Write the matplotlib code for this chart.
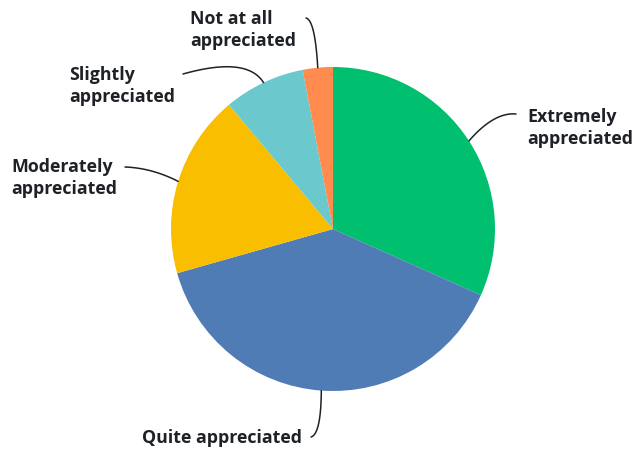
import numpy as np
import matplotlib.pyplot as plt

# -----------------------------
# Survey responses
# -----------------------------
labels = ["Extremely\nappreciated", "Quite appreciated", "Moderately\nappreciated",
          "Slightly\nappreciated", "Not at all\nappreciated"]
values = [31.7, 38.9, 18.3, 8.1, 3.0]
colors = ["#00BF6F", "#507CB6", "#F9BE00", "#6BC8CD", "#FF8B4F"]

# label placement: (left x, first baseline y, leader start, leader control)
label_pos = [(527, 122, (516, 114), (494, 112)),
             (142, 443, (311, 437), (321, 434)),
             (11, 172, (125, 167), (152, 168)),
             (69, 80, (183, 74), (247, 56)),
             (190, 24, (306, 18), (315, 20))]

cx, cy, R = 333, 229, 162
text_color = "#1e2226"

fig = plt.figure(figsize=(6.38, 4.51), dpi=100)
ax = fig.add_axes([0, 0, 1, 1])

# y axis is flipped below, so counterclock in data = clockwise on screen
wedges, _ = ax.pie(values, colors=colors, startangle=-90, counterclock=True,
                   center=(cx, cy), radius=R, wedgeprops=dict(linewidth=0))

for w, lab, (tx, ty, p0, pc) in zip(wedges, labels, label_pos):
    mid = np.radians((w.theta1 + w.theta2) / 2)
    p2 = (cx + R * np.cos(mid), cy + R * np.sin(mid))
    # quadratic bezier leader line
    t = np.linspace(0, 1, 40)[:, None]
    a, b, c = np.array(p0), np.array(pc), np.array(p2)
    pts = (1 - t) ** 2 * a + 2 * (1 - t) * t * b + t ** 2 * c
    ax.plot(pts[:, 0], pts[:, 1], color=text_color, lw=1.1, solid_capstyle='round')
    for i, line in enumerate(lab.split("\n")):
        ax.text(tx, ty + i * 21.5, line, ha='left', va='baseline',
                fontsize=12.8, fontweight='bold', family='Open Sans', color=text_color)

ax.set_xlim(0, 638)
ax.set_ylim(451, 0)
ax.set_aspect('equal')
ax.axis('off')

fig.savefig("out.png", dpi=100)
